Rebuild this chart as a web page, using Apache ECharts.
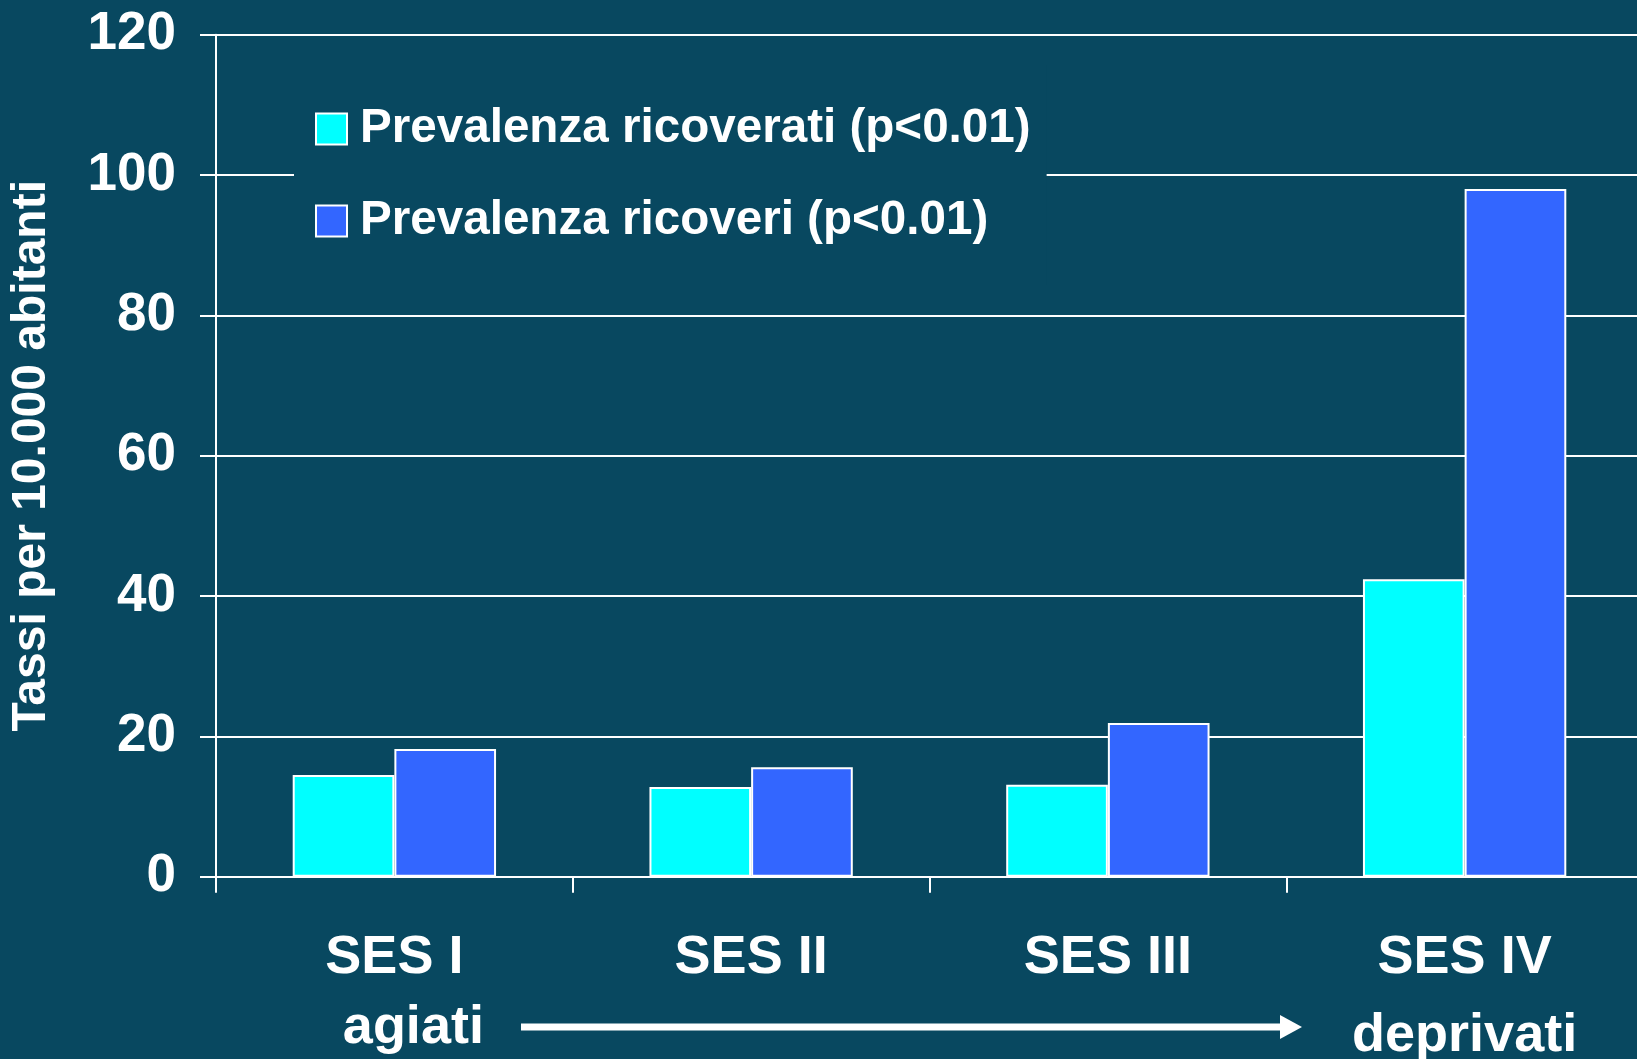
<!DOCTYPE html>
<html>
<head>
<meta charset="utf-8">
<script src="https://cdn.jsdelivr.net/npm/echarts@6/dist/echarts.min.js"></script>
<style>
  html, body { margin: 0; padding: 0; background: #084860; }
  #chart { width: 1637px; height: 1059px; }
</style>
</head>
<body>
<div id="chart"></div>
<script>
let categories = ['SES I', 'SES II', 'SES III', 'SES IV'];
let subLabels = ['agiati', '', '', 'deprivati'];
let ricoverati = [14.5, 12.8, 13.1, 42.4];
let ricoveri = [18.2, 15.6, 21.9, 98.0];
let yTicks = [0, 20, 40, 60, 80, 100, 120];

let bg = '#084860';
let font = 'Liberation Sans, Arial, sans-serif';
let myChart = echarts.init(document.getElementById('chart'));

myChart.setOption({
    backgroundColor: bg,
    animation: false,
    textStyle: { fontFamily: font },
    grid: { left: 216, top: 34.7, bottom: 182.3, right: -6, containLabel: false, outerBoundsMode: 'none' },
    legend: {
        orient: 'vertical',
        left: 294,
        top: 65,
        padding: [40, 16, 40, 21],
        backgroundColor: bg,
        itemWidth: 31,
        itemHeight: 31,
        itemGap: 44,
        icon: 'rect',
        selectedMode: false,
        textStyle: {
            color: '#ffffff', fontSize: 47.6, fontWeight: 'bold',
            fontFamily: font, padding: [0, 0, 0, 8]
        },
        data: ['Prevalenza ricoverati (p<0.01)', 'Prevalenza ricoveri (p<0.01)']
    },
    xAxis: {
        type: 'category',
        data: categories,
        axisLine: { lineStyle: { color: '#ffffff', width: 2 } },
        axisTick: { show: true, length: 16, lineStyle: { color: '#ffffff', width: 2 } },
        axisLabel: {
            color: '#ffffff', fontSize: 54, fontWeight: 'bold', fontFamily: font,
            margin: 46, lineHeight: 70, verticalAlign: 'top', interval: 0,
            formatter: function (v, i) {
                if (!subLabels[i]) return v;
                return v + '\n{' + (i === 0 ? 'a' : 'd') + '|' + subLabels[i] + '}';
            },
            rich: {
                a: { color: '#ffffff', fontSize: 54, fontWeight: 'bold', fontFamily: font, lineHeight: 70, padding: [0, 0, 0, 38] },
                d: { color: '#ffffff', fontSize: 54, fontWeight: 'bold', fontFamily: font, lineHeight: 86 }
            }
        }
    },
    yAxis: {
        type: 'value',
        min: yTicks[0],
        max: yTicks[yTicks.length - 1],
        interval: 20,
        name: 'Tassi per 10.000 abitanti',
        nameLocation: 'middle',
        nameRotate: 90,
        nameGap: 160,
        nameTextStyle: { color: '#ffffff', fontSize: 48, fontWeight: 'bold', fontFamily: font },
        axisLine: { show: true, lineStyle: { color: '#ffffff', width: 2 } },
        axisTick: { show: true, length: 16, lineStyle: { color: '#ffffff', width: 2 } },
        axisLabel: { color: '#ffffff', fontSize: 53, fontWeight: 'bold', fontFamily: font, margin: 40 },
        splitLine: { show: true, lineStyle: { color: '#ffffff', width: 2 } }
    },
    series: [
        {
            name: 'Prevalenza ricoverati (p<0.01)',
            type: 'bar',
            data: ricoverati,
            barGap: '0%',
            barCategoryGap: '43%',
            itemStyle: { color: '#00ffff', borderColor: '#ffffff', borderWidth: 2 }
        },
        {
            name: 'Prevalenza ricoveri (p<0.01)',
            type: 'bar',
            data: ricoveri,
            barGap: '0%',
            barCategoryGap: '43%',
            itemStyle: { color: '#3366ff', borderColor: '#ffffff', borderWidth: 2 }
        }
    ],
    graphic: [
        {
            type: 'rect',
            shape: { x: 521, y: 1023.5, width: 761, height: 7 },
            style: { fill: '#ffffff' }
        },
        {
            type: 'polygon',
            shape: { points: [[1280, 1015], [1302, 1027], [1280, 1039]] },
            style: { fill: '#ffffff' }
        }
    ]
});
</script>
</body>
</html>
